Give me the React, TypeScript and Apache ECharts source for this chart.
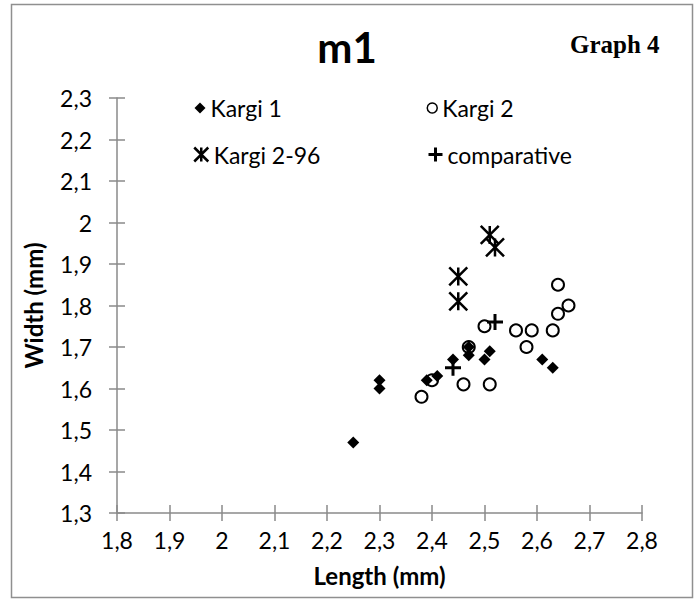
import React, { useEffect, useRef } from "react";
import * as echarts from "echarts";

const kargi1X = [2.25, 2.30, 2.30, 2.39, 2.41, 2.44, 2.47, 2.47, 2.50, 2.51, 2.61, 2.63];
const kargi1Y = [1.47, 1.62, 1.60, 1.62, 1.63, 1.67, 1.70, 1.68, 1.67, 1.69, 1.67, 1.65];

const kargi2X = [2.38, 2.40, 2.46, 2.51, 2.47, 2.50, 2.56, 2.59, 2.58, 2.63, 2.64, 2.66, 2.64];
const kargi2Y = [1.58, 1.62, 1.61, 1.61, 1.70, 1.75, 1.74, 1.74, 1.70, 1.74, 1.78, 1.80, 1.85];

const kargi296X = [2.45, 2.45, 2.51, 2.52];
const kargi296Y = [1.87, 1.81, 1.97, 1.94];

const compX = [2.44, 2.52];
const compY = [1.65, 1.76];

const seriesNames = ["Kargi 1", "Kargi 2", "Kargi 2-96", "comparative"];
const titleText = "m1";
const cornerText = "Graph 4";
const xName = "Length (mm)";
const yName = "Width (mm)";

const ASTERISK = "path://M0 0 L10 10 M10 0 L0 10 M5 0 L5 10";
const PLUS = "path://M5 0 L5 10 M0 5 L10 5";

const zip = (xs: number[], ys: number[]) => xs.map((x, i) => [x, ys[i]]);
const fmt = (v: number) => String(+(+v).toFixed(1)).replace(".", ",");

const FONT = "Lato";
const AXIS_COLOR = "#8a8a8a";

export default function App() {
  const ref = useRef<HTMLDivElement>(null);
  useEffect(() => {
    if (!ref.current) return;
    const chart = echarts.init(ref.current, null, { renderer: "svg" });
    const legendText = { fontFamily: FONT, fontSize: 23, color: "#000" };
    const option: any = {
      animation: false,
      backgroundColor: "#fff",
      textStyle: { fontFamily: FONT },
      title: [
        {
          text: titleText,
          left: 347,
          top: 26,
          textAlign: "center",
          padding: 0,
          textStyle: { fontFamily: FONT, fontSize: 42, fontWeight: "bold", color: "#000" },
        },
        {
          text: cornerText,
          left: 570,
          top: 32,
          padding: 0,
          textStyle: { fontFamily: "Liberation Serif", fontSize: 25, fontWeight: "bold", color: "#000" },
        },
      ],
      legend: [
        {
          data: [seriesNames[0]], left: 194.5, top: 96.5, padding: 0,
          itemWidth: 11, itemHeight: 11, textStyle: legendText,
          itemStyle: { color: "#000", borderWidth: 0, opacity: 1 },
        },
        {
          data: [seriesNames[2]], left: 193, top: 143, padding: 0,
          itemWidth: 15, itemHeight: 14, textStyle: legendText,
          itemStyle: { color: "rgba(0,0,0,0)", borderColor: "#000", borderWidth: 2.5, opacity: 1 },
        },
        {
          data: [seriesNames[1]], left: 426.5, top: 96.5, padding: 0,
          itemWidth: 10, itemHeight: 10, textStyle: legendText,
          itemStyle: { color: "rgba(0,0,0,0)", borderColor: "#000", borderWidth: 1.5, opacity: 1 },
        },
        {
          data: [seriesNames[3]], left: 427, top: 143, padding: 0,
          itemWidth: 14, itemHeight: 14, textStyle: legendText,
          itemStyle: { color: "rgba(0,0,0,0)", borderColor: "#000", borderWidth: 3, opacity: 1 },
        },
      ],
      grid: { left: 117, right: 58, top: 98, bottom: 86, containLabel: false },
      xAxis: [
        {
          type: "value", min: 1.8, max: 2.8, interval: 0.1,
          name: xName, nameLocation: "middle", nameGap: 50,
          nameTextStyle: { fontFamily: FONT, fontSize: 24, fontWeight: "bold", color: "#000" },
          axisLine: { onZero: false, lineStyle: { color: AXIS_COLOR, width: 1.5 } },
          axisTick: { inside: false, length: 8, lineStyle: { color: AXIS_COLOR, width: 1.5 } },
          axisLabel: { margin: 15, formatter: fmt, fontFamily: FONT, fontSize: 23, color: "#000" },
          splitLine: { show: false },
        },
        {
          type: "value", min: 1.8, max: 2.8, interval: 0.1, position: "bottom",
          axisLine: { show: false },
          axisTick: { inside: true, length: 8, lineStyle: { color: AXIS_COLOR, width: 1.5 } },
          axisLabel: { show: false },
          splitLine: { show: false },
        },
      ],
      yAxis: [
        {
          type: "value", min: 1.3, max: 2.3, interval: 0.1,
          name: yName, nameLocation: "middle", nameGap: 72, nameRotate: 90,
          nameTextStyle: { fontFamily: FONT, fontSize: 24, fontWeight: "bold", color: "#000" },
          axisLine: { onZero: false, lineStyle: { color: AXIS_COLOR, width: 1.5 } },
          axisTick: { inside: false, length: 8, lineStyle: { color: AXIS_COLOR, width: 1.5 } },
          axisLabel: { margin: 25, formatter: fmt, fontFamily: FONT, fontSize: 23, color: "#000" },
          splitLine: { show: false },
        },
        {
          type: "value", min: 1.3, max: 2.3, interval: 0.1, position: "left",
          axisLine: { show: false },
          axisTick: { inside: true, length: 8, lineStyle: { color: AXIS_COLOR, width: 1.5 } },
          axisLabel: { show: false },
          splitLine: { show: false },
        },
      ],
      graphic: [
        {
          type: "rect",
          shape: { x: 11.5, y: 4.5, width: 681, height: 593 },
          style: { fill: "none", stroke: "#8f8f8f", lineWidth: 1.5 },
          silent: true,
        },
      ],
      series: [
        {
          name: seriesNames[0], type: "scatter", xAxisIndex: 0, yAxisIndex: 0,
          symbol: "diamond", symbolSize: 12,
          itemStyle: { color: "#000", opacity: 1 },
          data: zip(kargi1X, kargi1Y),
        },
        {
          name: seriesNames[1], type: "scatter", xAxisIndex: 0, yAxisIndex: 0,
          symbol: "circle", symbolSize: 12,
          itemStyle: { color: "rgba(0,0,0,0)", borderColor: "#000", borderWidth: 2, opacity: 1 },
          data: zip(kargi2X, kargi2Y),
        },
        {
          name: seriesNames[2], type: "scatter", xAxisIndex: 0, yAxisIndex: 0,
          symbol: ASTERISK, symbolSize: 18,
          itemStyle: { color: "rgba(0,0,0,0)", borderColor: "#000", borderWidth: 2.5, opacity: 1 },
          data: zip(kargi296X, kargi296Y),
        },
        {
          name: seriesNames[3], type: "scatter", xAxisIndex: 0, yAxisIndex: 0,
          symbol: PLUS, symbolSize: 16,
          itemStyle: { color: "rgba(0,0,0,0)", borderColor: "#000", borderWidth: 3, opacity: 1 },
          data: zip(compX, compY),
        },
      ],
    };
    chart.setOption(option);
    return () => chart.dispose();
  }, []);
  return (
    <div
      ref={ref}
      style={{ position: "fixed", left: 0, top: 0, width: 700, height: 599, background: "#fff" }}
    />
  );
}
